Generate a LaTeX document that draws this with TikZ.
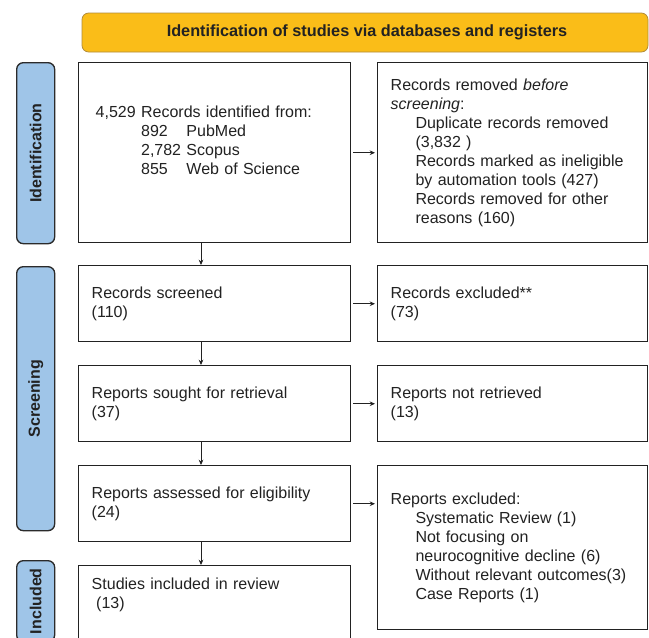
\documentclass[tikz,border=0pt]{standalone}
\usepackage{fontspec}
\setmainfont{Liberation Sans}
\usepackage{xcolor}
\usetikzlibrary{arrows.meta}
\definecolor{ink}{HTML}{222222}
\definecolor{headfill}{HTML}{FABD18}
\definecolor{headedge}{HTML}{B08A3A}
\definecolor{sidefill}{HTML}{9FC5E8}
\definecolor{sideedge}{HTML}{2B2B2B}
\newcommand{\ind}{\hspace*{1.55em}}

\begin{document}
\begin{tikzpicture}[x=0.75pt, y=-0.75pt,
    every node/.style={font=\fontsize{12}{14.25}\selectfont, text=ink},
    head/.style={rectangle, rounded corners=5pt, minimum width=424.5pt, minimum height=29.25pt, draw=headedge, line width=0.6pt, fill=headfill, font=\fontsize{12.2}{14.25}\selectfont\bfseries},
    side/.style={rectangle, rounded corners=5pt, minimum width=28.5pt, inner sep=0pt, draw=sideedge, line width=1pt, fill=sidefill, anchor=north west, font=\fontsize{12}{14.25}\selectfont\bfseries},
    box/.style={rectangle, draw=ink, line width=1.1pt, fill=white, text width=184.5pt, inner xsep=9.75pt, inner ysep=0pt, align=left, anchor=north west},
    rbox/.style={box, text width=183pt},
    arr/.style={-{Stealth[length=4pt, width=3.5pt]}, line width=0.6pt, color=ink}
]
    \useasboundingbox (0,0) rectangle (649,637);
    \clip (0,0) rectangle (649,637);

    % Header
    \node[head] (title) at (365,32.5) {\hspace*{3pt}Identification of studies via databases and registers};

    % Side tags
    \node[side, minimum height=135.75pt] (idtag) at (16,62) {\rotatebox{90}{Identification}};
    \node[side, minimum height=198pt] (scrtag) at (16,266) {\rotatebox{90}{Screening}};
    \node[side, minimum height=60.75pt] (inctag) at (16,560) {\rotatebox{90}{Included}};

    % Left column
    \node[box, minimum height=135pt] (records) at (78,62) {\hspace*{3pt}4,529 Records identified from:\\
        \hspace*{3pt}\hphantom{4,529\ }\rlap{892}\hphantom{2,782\ }PubMed\\
        \hspace*{3pt}\hphantom{4,529\ }2,782 Scopus\\
        \hspace*{3pt}\hphantom{4,529\ }\rlap{855}\hphantom{2,782\ }Web of Science\\
        \strut};
    \node[box, minimum height=57pt] (screened) at (78,265) {Records screened\\(110)};
    \node[box, minimum height=57pt] (sought) at (78,365) {Reports sought for retrieval\\(37)};
    \node[box, minimum height=57pt] (assessed) at (78,465) {Reports assessed for eligibility\\(24)};
    \node[box, minimum height=60pt] (studies) at (78,565) {Studies included in review\\\hspace*{0.28em}(13)\\\strut};

    % Right column
    \node[rbox, minimum height=135pt] (removed) at (377,62) {Records removed \textit{before}\\
        \textit{screening}:\\
        \ind Duplicate records removed\\
        \ind (3,832 )\\
        \ind Records marked as ineligible\\
        \ind by automation tools (427)\\
        \ind Records removed for other\\
        \ind reasons (160)};
    \node[rbox, minimum height=57pt] (excluded) at (377,265) {Records excluded**\\(73)};
    \node[rbox, minimum height=57pt] (notfound) at (377,365) {Reports not retrieved\\(13)};
    \node[rbox, minimum height=123pt] (rptexcl) at (377,465) {Reports excluded:\\
        \ind Systematic Review (1)\\
        \ind Not focusing on\\
        \ind neurocognitive decline (6)\\
        \ind Without relevant outcomes(3)\\
        \ind Case Reports (1)};

    % Arrows
    \coordinate (spine) at (201,0);
    \draw[arr] (records.south -| spine) -- (screened.north -| spine);
    \draw[arr] (screened.south -| spine) -- (sought.north -| spine);
    \draw[arr] (sought.south -| spine) -- (assessed.north -| spine);
    \draw[arr] (assessed.south -| spine) -- (studies.north -| spine);

    \draw[arr, shorten <=1.5pt, shorten >=1.5pt] (records) -- (removed);
    \draw[arr, shorten <=1.5pt, shorten >=1.5pt] (screened) -- (excluded);
    \draw[arr, shorten <=1.5pt, shorten >=1.5pt] (sought) -- (notfound);
    \draw[arr, shorten <=1.5pt, shorten >=1.5pt] (assessed) -- (assessed -| rptexcl.west);
\end{tikzpicture}
\end{document}
